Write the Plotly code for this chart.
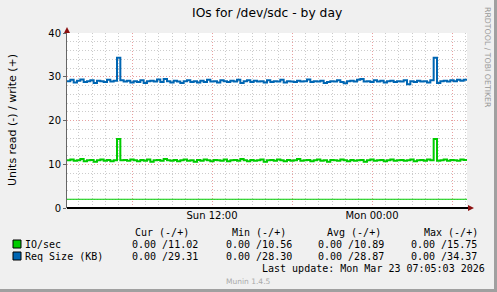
import plotly.graph_objects as go
from datetime import datetime, timedelta

# ---------------- data ----------------
start_time = "2026-03-22 01:07:30"
end_time = "2026-03-23 07:07:30"
step_minutes = 15

req_size_write = [
    29.0, 29.3, 28.7, 29.1, 29.4, 28.8, 29.0, 29.2, 28.6, 29.1,
    29.0, 28.8, 29.3, 28.9, 29.1, 34.37, 29.2, 28.9, 29.1, 28.7,
    29.0, 28.8, 29.2, 28.6, 29.0, 29.1, 28.9, 29.4, 28.8, 29.5,
    29.0, 28.7, 29.1, 28.9, 28.6, 29.0, 29.2, 28.8, 29.0, 28.7,
    29.1, 28.8, 29.3, 28.9, 29.0, 28.7, 29.2, 29.0, 28.8, 29.1,
    28.9, 29.3, 28.6, 29.0, 29.2, 28.8, 29.1, 28.9, 29.0, 28.7,
    29.2, 28.8, 29.0, 28.9, 29.3, 28.7, 29.0, 28.9, 28.8, 29.1,
    28.9, 29.0, 29.4, 28.8, 29.0, 28.9, 29.1, 28.6, 28.8, 29.0,
    28.9, 29.2, 28.8, 28.5, 29.0, 29.1, 28.9, 29.3, 29.5, 28.9,
    29.0, 28.8, 29.2, 28.9, 29.1, 28.7, 29.0, 29.1, 28.8, 29.0,
    28.9, 29.2, 28.3, 29.0, 28.8, 29.1, 28.9, 29.0, 28.7, 29.2,
    34.37, 28.6, 29.0, 29.1, 28.9, 29.2, 29.0, 29.3, 29.1, 29.3,
    29.31,
]

io_write = [
    10.9, 11.1, 10.8, 10.9, 11.2, 10.7, 10.9, 11.0, 10.6, 10.9,
    11.1, 10.8, 11.0, 10.7, 10.9, 15.75, 10.9, 11.0, 10.8, 11.1,
    10.9, 10.7, 11.0, 10.8, 11.1, 10.6, 10.9, 11.0, 10.8, 11.2,
    10.9, 10.8, 11.0, 10.7, 10.9, 11.1, 10.8, 10.9, 10.6, 11.0,
    10.8, 11.1, 10.9, 10.7, 11.0, 10.9, 10.8, 11.1, 10.7, 10.9,
    11.0, 10.8, 11.2, 10.9, 10.7, 11.0, 10.8, 10.9, 11.1, 10.6,
    10.9, 11.0, 10.8, 11.1, 10.9, 10.7, 11.0, 10.8, 10.9, 11.2,
    10.8, 10.9, 11.0, 10.7, 10.9, 11.1, 10.8, 10.9, 10.6, 11.0,
    10.9, 10.8, 11.1, 10.9, 10.7, 11.0, 10.8, 10.9, 11.0, 10.56,
    10.9, 11.1, 10.8, 10.9, 11.0, 10.7, 10.9, 11.1, 10.8, 10.9,
    11.0, 10.8, 10.9, 11.1, 10.7, 10.9, 11.0, 10.8, 11.1, 10.9,
    15.75, 10.8, 10.9, 11.1, 10.8, 11.0, 10.9, 10.8, 11.1, 11.0,
    11.02,
]

io_low_line_times = [start_time, end_time]
io_low_line_values = [2.0, 2.0]

major_tick_times = ["2026-03-22 06:00", "2026-03-22 12:00", "2026-03-22 18:00",
                    "2026-03-23 00:00", "2026-03-23 06:00"]
major_tick_text = ["", "Sun 12:00", "", "Mon 00:00", ""]

legend_names = ["IO/sec", "Req Size (KB)"]
legend_colors = ["#00CC00", "#0066B3"]
cur_read = [0.0, 0.0]
cur_write = [11.02, 29.31]
min_read = [0.0, 0.0]
min_write = [10.56, 28.30]
avg_read = [0.0, 0.0]
avg_write = [10.89, 28.87]
max_read = [0.0, 0.0]
max_write = [15.75, 34.37]
col_headers = ["Cur (-/+)", "Min (-/+)", "Avg (-/+)", "Max (-/+)"]

title_text = "IOs for /dev/sdc - by day"
y_title = "Units read (-) / write (+)"
last_update = "Last update: Mon Mar 23 07:05:03 2026"
munin_ver = "Munin 1.4.5"
rrd_credit = "RRDTOOL / TOBI OETIKER"

# ---------------- build ----------------
t0 = datetime.strptime(start_time, "%Y-%m-%d %H:%M:%S")
times = [t0 + timedelta(minutes=step_minutes * i) for i in range(len(io_write))]

W, H = 497, 292
PL, PR, PT, PB = 67, 467, 33, 208  # plot area pixels


def px(x):
    return (x - PL) / (PR - PL)


def py(y):
    return (PB - y) / (PB - PT)


fig = go.Figure()
fig.add_trace(go.Scatter(x=io_low_line_times, y=io_low_line_values, mode="lines",
                         line=dict(color="#00CC00", width=1), hoverinfo="skip"))
fig.add_trace(go.Scatter(x=times, y=io_write, mode="lines", line_shape="hv",
                         line=dict(color="#00CC00", width=2)))
fig.add_trace(go.Scatter(x=times, y=req_size_write, mode="lines", line_shape="hv",
                         line=dict(color="#0066B3", width=2)))

mono = "DejaVu Sans Mono"
sans = "DejaVu Sans"

annotations = []


def txt(x, y, text, size=10, family=mono, color="#000000", xanchor="left", angle=0):
    annotations.append(dict(x=px(x), y=py(y), xref="paper", yref="paper", text=text,
                            showarrow=False, xanchor=xanchor, yanchor="middle",
                            font=dict(family=family, size=size, color=color),
                            borderpad=0, borderwidth=0, textangle=angle))


txt(267, 13, title_text, size=12.3, family=sans, xanchor="center")
txt(12, 120, y_title, size=11, family=sans, xanchor="center", angle=-90)
txt(488, 57, rrd_credit, size=7.8, family=sans, color="#999999", xanchor="center", angle=90)

header_x = [135, 232, 327, 424]
for hx, h in zip(header_x, col_headers):
    txt(hx, 232, h)
row_y = [244, 256]
val_x = [132, 226, 318, 411]
for i, name in enumerate(legend_names):
    txt(25, row_y[i], name)
    vals = [(cur_read[i], cur_write[i]), (min_read[i], min_write[i]),
            (avg_read[i], avg_write[i]), (max_read[i], max_write[i])]
    for vx, (r, w) in zip(val_x, vals):
        txt(vx, row_y[i], "%.2f /%.2f" % (r, w))
txt(262, 268.5, last_update)
txt(248, 281, munin_ver, size=7.5, family=sans, color="#aaaaaa", xanchor="center")

shapes = []
# legend swatches
for i, c in enumerate(legend_colors):
    shapes.append(dict(type="rect", xref="paper", yref="paper",
                       x0=px(13), x1=px(21), y0=py(row_y[i] - 4), y1=py(row_y[i] + 4),
                       fillcolor=c, line=dict(color="#000000", width=1)))
# zero axis line
shapes.append(dict(type="line", xref="paper", yref="paper", x0=0, x1=px(469),
                   y0=0, y1=0, line=dict(color="#000000", width=2)))
# arrows
shapes.append(dict(type="path", xref="paper", yref="paper",
                   path="M %f %f L %f %f L %f %f Z" % (px(67), py(27), px(64), py(33), px(70), py(33)),
                   fillcolor="#8B1010", line=dict(color="#8B1010", width=0)))
shapes.append(dict(type="path", xref="paper", yref="paper",
                   path="M %f %f L %f %f L %f %f Z" % (px(474), py(208), px(468), py(205), px(468), py(211)),
                   fillcolor="#8B1010", line=dict(color="#8B1010", width=0)))
# frame
shapes.append(dict(type="rect", xref="paper", yref="paper", x0=px(494), x1=px(498),
                   y0=py(293), y1=py(-1), fillcolor="#a0a0a0", line=dict(width=0)))
shapes.append(dict(type="rect", xref="paper", yref="paper", x0=px(-1), x1=px(498),
                   y0=py(293), y1=py(289), fillcolor="#a0a0a0", line=dict(width=0)))

fig.update_layout(
    width=W, height=H,
    margin=dict(l=PL, r=W - PR, t=PT, b=H - PB),
    paper_bgcolor="#F0F0F0", plot_bgcolor="#FFFFFF",
    showlegend=False,
    annotations=annotations,
    shapes=shapes,
    xaxis=dict(
        type="date", range=[start_time, end_time],
        tickvals=major_tick_times, ticktext=major_tick_text,
        showgrid=True, gridcolor="#E8A0A0", griddash="1px,2px", gridwidth=1,
        ticks="", showline=False, zeroline=False,
        tickfont=dict(family=sans, size=10, color="#000000"),
        minor=dict(dtick=3600000, tick0="2026-03-22 00:00", showgrid=True,
                   gridcolor="#CCCCCC", griddash="1px,2px", gridwidth=1),
    ),
    yaxis=dict(
        range=[0, 40], dtick=10, tick0=0,
        showgrid=True, gridcolor="#E8A0A0", griddash="1px,2px", gridwidth=1,
        ticks="outside", ticklen=3, tickcolor="#666666",
        showline=True, linecolor="#666666", linewidth=1, zeroline=False,
        tickfont=dict(family=sans, size=10, color="#000000"),
        minor=dict(dtick=2, showgrid=True, gridcolor="#CCCCCC",
                   griddash="1px,2px", gridwidth=1),
    ),
)

fig.write_html("out.html")
